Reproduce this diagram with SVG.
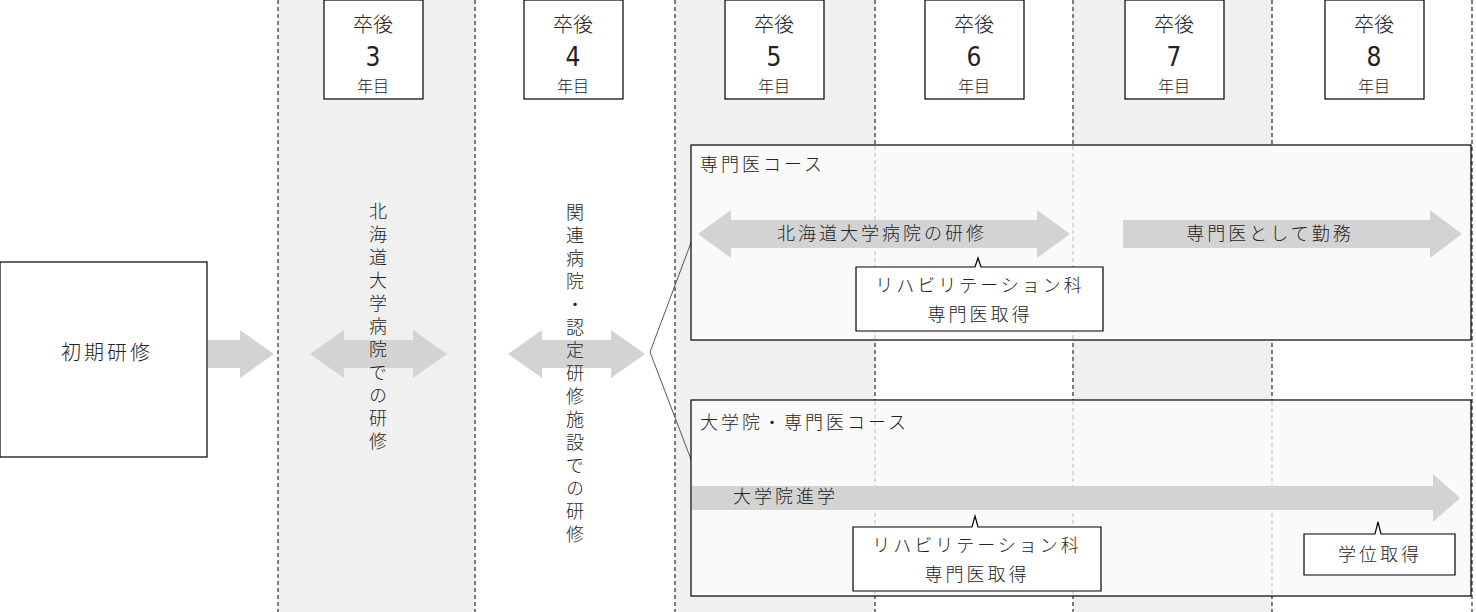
<svg xmlns="http://www.w3.org/2000/svg" width="1476" height="612" viewBox="0 0 1476 612">
<style>
text{font-family:"Noto Sans CJK JP","Noto Sans",sans-serif;fill:#222;font-weight:300}
.t{font-size:18px;letter-spacing:3px}
.hd{font-size:20px;text-anchor:middle}
.num{font-family:"Liberation Sans Narrow","DejaVu Sans Condensed",sans-serif;font-size:26px;text-anchor:middle;font-weight:normal}
.yr{font-size:16px;text-anchor:middle}
.box{fill:#fff;stroke:#000;stroke-width:1.2}
.dash{stroke:#000;stroke-width:1;stroke-dasharray:4,3}
.ldash{stroke:#bbb;stroke-width:1;stroke-dasharray:4,3}
.arr{fill:#d3d3d3}
.course{fill:#fafafa;stroke:#000;stroke-width:1.2}
.vt{font-size:18px;writing-mode:vertical-rl;letter-spacing:5px}
</style>
<rect x="0" y="0" width="1476" height="612" fill="#fff"/>
<rect x="278" y="0" width="197" height="612" fill="#f0f0f0"/>
<rect x="675" y="0" width="200" height="612" fill="#f0f0f0"/>
<rect x="1073" y="0" width="199" height="612" fill="#f0f0f0"/>
<g id="gridlines">
<line class="dash" x1="278" y1="0" x2="278" y2="612"/>
<line class="dash" x1="475" y1="0" x2="475" y2="612"/>
<line class="dash" x1="675" y1="0" x2="675" y2="612"/>
<line class="dash" x1="875" y1="0" x2="875" y2="612"/>
<line class="dash" x1="1073" y1="0" x2="1073" y2="612"/>
<line class="dash" x1="1272" y1="0" x2="1272" y2="612"/>
<line class="dash" x1="1472" y1="0" x2="1472" y2="612"/>
</g>
<g id="year3"><rect class="box" x="324" y="0" width="99" height="99"/><text class="hd" x="373" y="32">卒後</text><text class="num" x="373" y="66">3</text><text class="yr" x="373" y="92">年目</text></g>
<g id="year4"><rect class="box" x="524" y="0" width="99" height="99"/><text class="hd" x="573" y="32">卒後</text><text class="num" x="573" y="66">4</text><text class="yr" x="573" y="92">年目</text></g>
<g id="year5"><rect class="box" x="725" y="0" width="99" height="99"/><text class="hd" x="774" y="32">卒後</text><text class="num" x="774" y="66">5</text><text class="yr" x="774" y="92">年目</text></g>
<g id="year6"><rect class="box" x="925" y="0" width="99" height="99"/><text class="hd" x="974" y="32">卒後</text><text class="num" x="974" y="66">6</text><text class="yr" x="974" y="92">年目</text></g>
<g id="year7"><rect class="box" x="1125" y="0" width="99" height="99"/><text class="hd" x="1174" y="32">卒後</text><text class="num" x="1174" y="66">7</text><text class="yr" x="1174" y="92">年目</text></g>
<g id="year8"><rect class="box" x="1325" y="0" width="99" height="99"/><text class="hd" x="1374" y="32">卒後</text><text class="num" x="1374" y="66">8</text><text class="yr" x="1374" y="92">年目</text></g>
<g id="shoki"><rect class="box" x="0" y="262" width="207" height="195"/><text class="t" x="107" y="360" text-anchor="middle" style="font-size:20px">初期研修</text></g>
<g id="connectors">
<polygon class="arr" points="208,340 240,340 240,330 274,354 240,378 240,368 208,368"/>
<polygon class="arr" points="310,354 344,330 344,340 413,340 413,330 447,354 413,378 413,368 344,368 344,378"/>
<polygon class="arr" points="508,354 542,330 542,340 611,340 611,330 645,354 611,378 611,368 542,368 542,378"/>
<polyline points="692,240 650,352 692,462" fill="none" stroke="#555" stroke-width="1"/>
</g>
<g id="col3text"><text class="vt" x="378" y="202">北海道大学病院での研修</text></g>
<g id="col4text"><text class="vt" x="575" y="203">関連病院・認定研修施設での研修</text></g>
<g id="course1">
<rect class="course" x="691" y="145" width="780" height="195"/>
<line class="ldash" x1="875" y1="146" x2="875" y2="339"/><line class="ldash" x1="1073" y1="146" x2="1073" y2="339"/>
<text class="t" x="700" y="171">専門医コース</text>
<polygon class="arr" points="698,234 731,210 731,220 1037,220 1037,210 1070,234 1037,258 1037,248 731,248 731,258"/>
<text class="t" x="882" y="240" text-anchor="middle">北海道大学病院の研修</text>
<polygon class="arr" points="1123,220 1430,220 1430,210 1462,234 1430,258 1430,248 1123,248"/>
<text class="t" x="1270" y="240" text-anchor="middle">専門医として勤務</text>
<path class="box" d="M856,267 H975 L978,258 L981,267 H1103 V331 H856 Z"/>
<text class="t" x="980" y="292" text-anchor="middle">リハビリテーション科</text>
<text class="t" x="980" y="321" text-anchor="middle">専門医取得</text>
</g>
<g id="course2">
<rect class="course" x="691" y="400" width="780" height="196"/>
<line class="ldash" x1="875" y1="401" x2="875" y2="595"/><line class="ldash" x1="1073" y1="401" x2="1073" y2="595"/><line class="ldash" x1="1272" y1="401" x2="1272" y2="595"/>
<text class="t" x="700" y="429">大学院・専門医コース</text>
<polygon class="arr" points="692,486 1433,486 1433,474 1460,498 1433,522 1433,510 692,510"/>
<text class="t" x="733" y="503">大学院進学</text>
<path class="box" d="M853,527 H972 L975,516 L978,527 H1101 V591 H853 Z"/>
<text class="t" x="977" y="552" text-anchor="middle">リハビリテーション科</text>
<text class="t" x="977" y="581" text-anchor="middle">専門医取得</text>
<path class="box" d="M1304,534 H1375 L1378,522 L1381,534 H1455 V575 H1304 Z"/>
<text class="t" x="1380" y="561" text-anchor="middle">学位取得</text>
</g>
</svg>
